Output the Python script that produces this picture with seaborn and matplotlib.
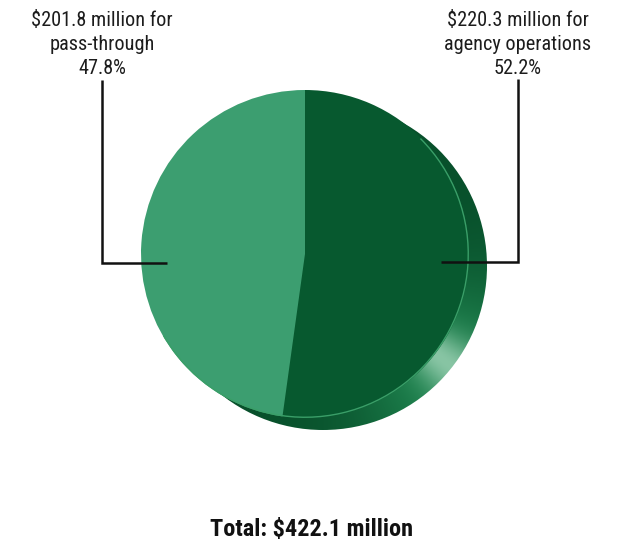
import numpy as np
import matplotlib
matplotlib.use("Agg")
import matplotlib.pyplot as plt
from matplotlib import font_manager as fm
from matplotlib.patches import Circle, Arc
from matplotlib.colors import to_rgb
import seaborn as sns

# Budget split, $ millions
categories = ["agency operations", "pass-through"]
amounts = [220.3, 201.8]
shares = [52.2, 47.8]
total = 422.1
slice_colors = ["#07592f", "#3c9e70"]

sns.set_theme(style="white")

# pick a condensed sans for the labels
available = {f.name for f in fm.fontManager.ttflist}
label_font = "DejaVu Sans"
for cand in ["Roboto Condensed", "Liberation Sans Narrow", "Archivo Narrow",
             "Sofia Sans Condensed", "Saira SemiCondensed"]:
    if cand in available:
        label_font = cand
        break
plt.rcParams["font.family"] = [label_font, "DejaVu Sans"]

W, H = 620, 540
fig = plt.figure(figsize=(W / 100, H / 100), dpi=100)
fig.patch.set_facecolor("white")
ax = fig.add_axes([0, 0, 1, 1])


def py(y):
    """Pixel row (top-down) to data y (bottom-up)."""
    return H - y


cx, cy, r = 305, 254, 164
dx, dy = 18, 12  # disc thickness direction

# Side of the disc: an offset circle filled with a shaded gradient
sx, sy = cx + dx, py(cy + dy)
xs = np.linspace(sx - r, sx + r, 400)
ys = np.linspace(sy - r, sy + r, 400)
X, Y = np.meshgrid(xs, ys)
ang = np.degrees(np.arctan2(-(Y - sy), X - sx))  # degrees, positive going downward
dark = np.array(to_rgb("#08502b"))
mid = np.array(to_rgb("#1f8550"))
light = np.array(to_rgb("#b5e0c8"))
ramp = np.exp(-((ang - 40) / 35) ** 2)[..., None]
glow = np.exp(-((ang - 38) / 10) ** 2)[..., None]
img = dark + (mid - dark) * ramp
img = img + (light - img) * 0.7 * glow
side = Circle((sx, sy), r, facecolor="none", edgecolor="none")
ax.add_patch(side)
im = ax.imshow(img, extent=[sx - r, sx + r, sy - r, sy + r], origin="lower",
               interpolation="bilinear", zorder=1)
im.set_clip_path(side)

# Top face of the disc: the pie itself
wedges, _ = ax.pie(amounts, colors=slice_colors, startangle=90, counterclock=False,
                   radius=r, center=(cx, py(cy)), frame=True,
                   wedgeprops=dict(linewidth=0))
for w in wedges:
    w.set_zorder(2)
ax.add_patch(Arc((cx, py(cy)), 2 * r - 1.5, 2 * r - 1.5, theta1=-150, theta2=45,
                 color="#3a9e68", lw=1.0, zorder=3))

# Leader lines
line_kw = dict(color="#111111", lw=1.8, solid_capstyle="butt",
               solid_joinstyle="miter", zorder=4)
ax.plot([167, 102, 102], [py(263), py(263), py(80)], **line_kw)
ax.plot([441, 518, 518], [py(262), py(262), py(79)], **line_kw)

# Slice labels, one text per line
txt_kw = dict(ha="center", va="baseline", fontsize=14.6, color="#1c1c1c",
              parse_math=False, zorder=5)
label_rows = [26, 50, 73.5]
left_lines = [f"${amounts[1]:.1f} million for", categories[1], f"{shares[1]:.1f}%"]
right_lines = [f"${amounts[0]:.1f} million for", categories[0], f"{shares[0]:.1f}%"]
for row, lt, rt in zip(label_rows, left_lines, right_lines):
    ax.text(102, py(row), lt, **txt_kw)
    ax.text(518, py(row), rt, **txt_kw)

ax.text(312, py(536), f"Total: ${total:.1f} million", ha="center", va="baseline",
        fontsize=17.5, fontweight="bold", color="#111111", parse_math=False)

ax.set_xlim(0, W)
ax.set_ylim(0, H)
ax.set_aspect("equal")
ax.axis("off")
sns.despine(ax=ax, left=True, bottom=True)

fig.savefig("out.png", dpi=100, facecolor="white")
